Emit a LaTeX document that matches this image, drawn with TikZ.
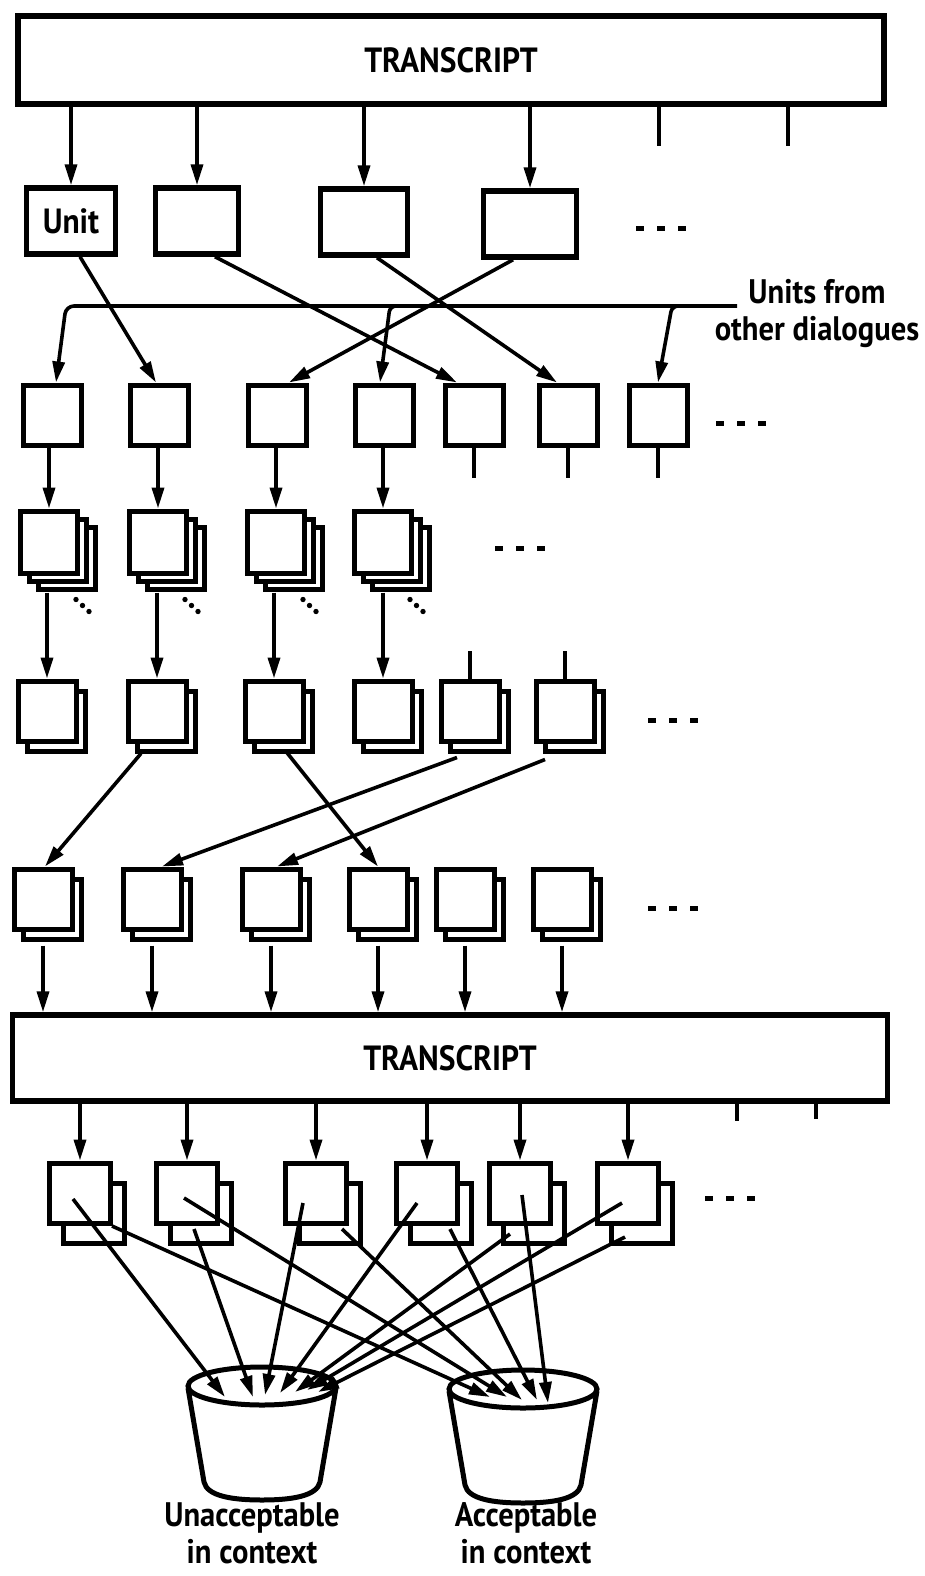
\documentclass[tikz,border=0pt]{standalone}
\usepackage{fontspec}
\setmainfont{PT Sans}[FakeStretch=0.9]
\usetikzlibrary{arrows.meta, positioning, shadows, calc}

\tikzset{
  unitbox/.style={draw, fill=white, line width=5pt, inner sep=0pt,
    minimum width=58pt, minimum height=60pt},
  bigunit/.style={unitbox, line width=5.5pt, minimum height=66pt},
  trbox/.style={draw, fill=white, line width=5.5pt, inner sep=0pt,
    font=\bfseries\fontsize{35}{38}\selectfont},
  lbl/.style={font=\bfseries\fontsize{34}{37}\selectfont, align=center, inner sep=0pt},
  arr/.style={line width=3.6pt, -{Triangle[length=21pt, width=12pt]}},
  stub/.style={line width=3.6pt},
  ellip/.style={line width=5pt, dash pattern=on 8pt off 13pt},
  threelayer/.style={double copy shadow={shadow xshift=9pt, shadow yshift=-8pt,
    draw=black, fill=white, line width=5pt}},
  twolayer/.style={copy shadow={shadow xshift=9pt, shadow yshift=-10pt,
    draw=black, fill=white, line width=5pt}},
  twolayerwide/.style={copy shadow={shadow xshift=14pt, shadow yshift=-20pt,
    draw=black, fill=white, line width=5pt}}
}

\begin{document}
\begin{tikzpicture}[x=1pt, y=-1pt]
\useasboundingbox (0,0) rectangle (924,1576);

%% ---- Top transcript ----
\node[trbox, minimum width=866pt, minimum height=88pt] (trtop) at (451,60) {TRANSCRIPT};
\coordinate (cut1) at (659,146);
\coordinate (cut2) at (788,146);
\foreach \c in {cut1,cut2}
  \draw[stub] (\c |- trtop.south) -- (\c);

%% ---- Units of this dialogue ----
\node[bigunit, minimum width=89pt, font=\bfseries\fontsize{35}{38}\selectfont] (a1) at (71,221) {Unit};
\node[bigunit, minimum width=83pt] (a2) at (197,221) {};
\node[bigunit, minimum width=87pt] (a3) at (364,222) {};
\node[bigunit, minimum width=93pt] (a4) at (530,224) {};
\foreach \n in {a1,a2,a3,a4}
  \draw[arr] (\n.north |- trtop.south) -- (\n.north);
\coordinate (etc1) at (636,228);
\draw[ellip] (etc1) -- ++(52,0);

%% ---- Sorted units ----
\foreach \n/\x in {b1/52, b2/159, b3/277, b4/384, b5/474, b6/568, b7/658}
  \node[unitbox] (\n) at (\x,415) {};
\coordinate (etc2) at (716,423);
\draw[ellip] (etc2) -- ++(52,0);
\foreach \n in {b5,b6,b7}
  \draw[stub] (\n.south) -- ++(0,30);

\draw[arr] ([xshift=9pt]a1.south) -- ([xshift=-3pt]b2.north);
\draw[arr] ([xshift=18pt]a2.south) -- ([xshift=-17pt]b5.north);
\draw[arr] ([xshift=13pt]a3.south) -- ([xshift=-11pt]b6.north);
\draw[arr] ([xshift=-17pt]a4.south) -- ([xshift=12pt]b3.north);

%% ---- Units from other dialogues ----
\node[lbl] (other) at (817,314) {Units from\\other dialogues};
\coordinate (feed) at (737,306);
\draw[arr, rounded corners=8pt] (feed) -- ($(b1.north |- feed)+(14,0)$) -- ([xshift=4pt]b1.north);
\draw[arr, rounded corners=6pt] ($(b4.north |- feed)+(26,0)$) -- ($(b4.north |- feed)+(6,0)$) -- ([xshift=-4pt]b4.north);
\draw[arr, rounded corners=6pt] ($(b7.north |- feed)+(34,0)$) -- ($(b7.north |- feed)+(14,0)$) -- (b7.north);

%% ---- Stacks ----
\foreach \n/\x in {c1/49, c2/158, c3/276, c4/383}
  \node[unitbox, threelayer, minimum width=57pt, minimum height=62pt] (\n) at (\x,542) {};
\foreach \u/\v in {b1/c1, b2/c2, b3/c3, b4/c4}
  \draw[arr] (\v.north |- \u.south) -- (\v.north);
\foreach \n in {c1,c2,c3,c4}
  \foreach \k in {0,1,2}
    \fill ($(\n.south east)+(-4+6.5*\k, 24+6*\k)$) circle [radius=2.7pt];
\coordinate (etc3) at (495,548);
\draw[ellip] (etc3) -- ++(52,0);

%% ---- Paired units ----
\foreach \n/\x in {d1/47, d2/157, d3/274, d4/383, d5/470, d6/565}
  \node[unitbox, twolayer] (\n) at (\x,711) {};
\foreach \u/\v in {c1/d1, c2/d2, c3/d3, c4/d4}
  \draw[arr] ($(\v.north |- \u.south)+(0,17)$) -- (\v.north);
\foreach \n in {d5,d6}
  \draw[stub] (\n.north) -- ++(0,-28);
\coordinate (etc4) at (648,720);
\draw[ellip] (etc4) -- ++(52,0);

\foreach \n/\x in {e1/43, e2/152, e3/271, e4/378, e5/465, e6/562}
  \node[unitbox, twolayer] (\n) at (\x,899) {};
\coordinate (etc5) at (648,908);
\draw[ellip] (etc5) -- ++(52,0);

\draw[arr] ($(d2.south)+(-16,10)$) -- ([xshift=2pt]e1.north);
\draw[arr] ($(d3.south)+(12,8)$) -- (e4.north);
\draw[arr] ($(d5.south)+(-13,14)$) -- ([xshift=10pt]e2.north);
\draw[arr] ($(d6.south)+(-20,16)$) -- ([xshift=6pt]e3.north);

%% ---- Bottom transcript ----
\node[trbox, minimum width=875pt, minimum height=86pt] (trbot) at (450,1058) {TRANSCRIPT};
\foreach \n in {e1,e2,e3,e4,e5,e6}
  \draw[arr] ($(\n.south)+(0,14)$) -- (\n.south |- trbot.north);
\coordinate (cut3) at (737,1121);
\coordinate (cut4) at (816,1119);
\foreach \c in {cut3,cut4}
  \draw[stub] (\c |- trbot.south) -- (\c);

%% ---- Judged units ----
\foreach \n/\x in {f1/80, f2/187, f3/316, f4/427, f5/520, f6/628}
  \node[unitbox, twolayerwide, minimum width=61pt] (\n) at (\x,1193) {};
\foreach \n in {f1,f2,f3,f4,f5,f6}
  \draw[arr] (\n.north |- trbot.south) -- (\n.north);
\coordinate (etc6) at (705,1198);
\draw[ellip] (etc6) -- ++(52,0);

%% ---- Buckets ----
\coordinate (bad) at (262,1386);
\coordinate (good) at (523,1389);
\foreach \b in {bad,good}{
  \begin{scope}[shift={(\b)}]
    \draw[line width=5pt, fill=white] (-74,2) -- (-58,96)
      .. controls (-55,110) and (-30,114) .. (0,114)
      .. controls (30,114) and (55,110) .. (58,96) -- (74,2);
    \draw[line width=5pt] (0,0) ellipse [x radius=74, y radius=19];
  \end{scope}
}
\node[lbl] (badlbl) at (252,1533) {Unacceptable\\in context};
\node[lbl] (goodlbl) at (526,1533) {Acceptable\\in context};

\foreach \n/\dx/\dy/\tx/\ty in {f1/-7/6/-37/11, f2/7/36/-9/11, f3/-13/10/3/9,
    f4/-10/10/18/7, f5/-10/41/33/6, f6/-6/10/45/4, f6/-3/44/56/6}
  \draw[arr] ($(\n.center)+(\dx,\dy)$) -- ($(bad)+(\tx,\ty)$);
\foreach \n/\dx/\dy/\tx/\ty in {f1/32/33/-33/8, f2/-3/5/-16/8, f3/26/36/-1/11,
    f4/23/36/14/11, f5/2/2/25/14}
  \draw[arr] ($(\n.center)+(\dx,\dy)$) -- ($(good)+(\tx,\ty)$);

\end{tikzpicture}
\end{document}
